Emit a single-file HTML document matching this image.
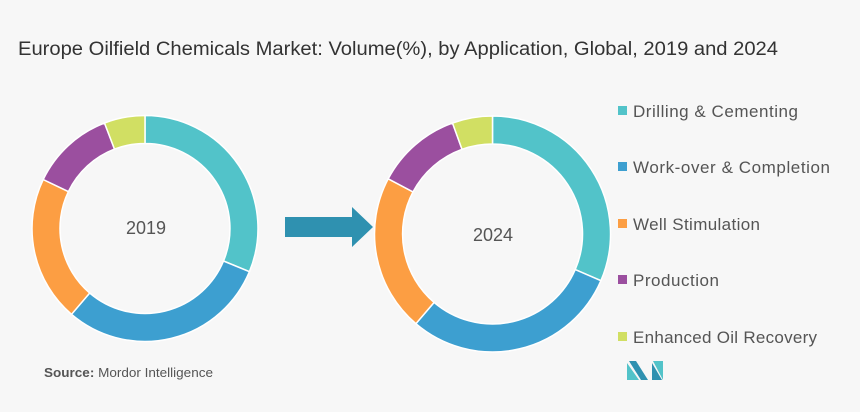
<!DOCTYPE html>
<html><head><style>
body{margin:0;background:#f7f7f7;font-family:"Liberation Sans",sans-serif;}
</style></head><body>
<svg width="860" height="407" viewBox="0 0 860 407" xmlns="http://www.w3.org/2000/svg">
<rect width="860" height="407" fill="#f7f7f7"/>
<text x="18" y="55" font-size="19" fill="#333" textLength="760" lengthAdjust="spacingAndGlyphs">Europe Oilfield Chemicals Market: Volume(%), by Application, Global, 2019 and 2024</text>
<g stroke="#fff" stroke-width="1.5">
<path d="M145 115.5 A113 113 0 0 1 249.4 271.7 L223.5 261 A85 85 0 0 0 145 143.5 Z" fill="#52c3c9"/>
<path d="M249.4 271.7 A113 113 0 0 1 71.5 314.3 L89.7 293 A85 85 0 0 0 223.5 261 Z" fill="#3d9fd0"/>
<path d="M71.5 314.3 A113 113 0 0 1 43.2 179.5 L68.4 191.6 A85 85 0 0 0 89.7 293 Z" fill="#fc9e43"/>
<path d="M43.2 179.5 A113 113 0 0 1 104.5 123 L114.5 149.1 A85 85 0 0 0 68.4 191.6 Z" fill="#9b4f9f"/>
<path d="M104.5 123 A113 113 0 0 1 145 115.5 L145 143.5 A85 85 0 0 0 114.5 149.1 Z" fill="#d1df63"/>
<path d="M492.5 116 A118 118 0 0 1 600.9 280.7 L575.2 269.6 A90 90 0 0 0 492.5 144 Z" fill="#52c3c9"/>
<path d="M600.9 280.7 A118 118 0 0 1 415.9 323.7 L434.1 302.4 A90 90 0 0 0 575.2 269.6 Z" fill="#3d9fd0"/>
<path d="M415.9 323.7 A118 118 0 0 1 388.2 178.8 L413 191.9 A90 90 0 0 0 434.1 302.4 Z" fill="#fc9e43"/>
<path d="M388.2 178.8 A118 118 0 0 1 452.5 123 L462 149.3 A90 90 0 0 0 413 191.9 Z" fill="#9b4f9f"/>
<path d="M452.5 123 A118 118 0 0 1 492.5 116 L492.5 144 A90 90 0 0 0 462 149.3 Z" fill="#d1df63"/>
</g>
<text x="146" y="234" font-size="18" fill="#555" text-anchor="middle">2019</text>
<text x="493" y="241" font-size="18" fill="#555" text-anchor="middle">2024</text>
<path d="M285 217 H352 V207 L373 227 L352 247 V237 H285 Z" fill="#2f91b0"/>
<g font-size="17" fill="#555" lengthAdjust="spacingAndGlyphs">
<rect x="618" y="106" width="9" height="9" fill="#52c3c9"/><text x="633" y="117" textLength="165">Drilling &amp; Cementing</text>
<rect x="618" y="162" width="9" height="9" fill="#3d9fd0"/><text x="633" y="173" textLength="197">Work-over &amp; Completion</text>
<rect x="618" y="219" width="9" height="9" fill="#fc9e43"/><text x="633" y="230" textLength="127">Well Stimulation</text>
<rect x="618" y="275" width="9" height="9" fill="#9b4f9f"/><text x="633" y="286" textLength="86">Production</text>
<rect x="618" y="332" width="9" height="9" fill="#d1df63"/><text x="633" y="343" textLength="184">Enhanced Oil Recovery</text>
</g>
<text x="44" y="377" font-size="13" fill="#555" textLength="169" lengthAdjust="spacingAndGlyphs"><tspan font-weight="bold">Source:</tspan> Mordor Intelligence</text>
<g transform="translate(627,361)">
<path d="M0 19 L0 2 L12 19 Z" fill="#52c3c9"/><path d="M2 0 H9 L21 19 H14 Z" fill="#2f91b0"/>
<path d="M26 0 H36 V19 Z" fill="#52c3c9"/><path d="M25 2 L35 19 H25 Z" fill="#2f91b0"/>
</g>
</svg>
</body></html>
